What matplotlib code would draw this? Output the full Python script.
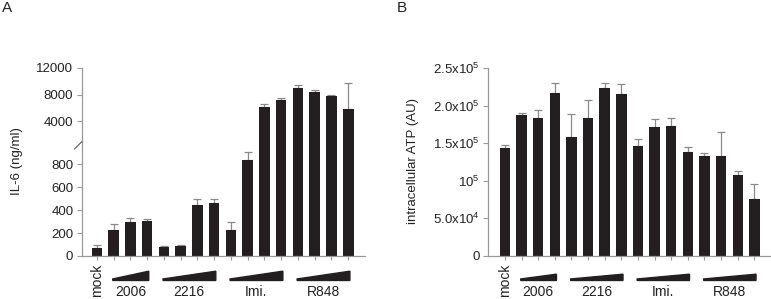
import numpy as np
import matplotlib
matplotlib.use('Agg')
import matplotlib.pyplot as plt
from matplotlib import transforms
from matplotlib.patches import Polygon

plt.rcParams['font.family'] = ['Liberation Sans', 'DejaVu Sans']
plt.rcParams['mathtext.fontset'] = 'custom'
plt.rcParams['mathtext.rm'] = 'Liberation Sans'
plt.rcParams['mathtext.it'] = 'Liberation Sans:italic'

# groups along the x axis
groups = ['mock', '2006', '2216', 'Imi.', 'R848']
group_sizes = [1, 3, 4, 4, 4]

# panel A: IL-6 (ng/ml)
il6 = [68, 231, 296, 308, 77, 89, 444, 465, 231, 838, 6200, 7200, 9000, 8450, 7850, 5860]
il6_err = [27, 50, 36, 18, 6, 6, 51, 36, 62, 66, 360, 260, 450, 200, 150, 3940]

# panel B: intracellular ATP (AU)
atp = [1.442e5, 1.873e5, 1.829e5, 2.171e5, 1.589e5, 1.835e5, 2.232e5, 2.152e5,
       1.464e5, 1.710e5, 1.732e5, 1.389e5, 1.327e5, 1.335e5, 1.071e5, 0.754e5]
atp_err = [0.040e5, 0.023e5, 0.107e5, 0.129e5, 0.298e5, 0.236e5, 0.072e5, 0.134e5,
           0.090e5, 0.116e5, 0.103e5, 0.058e5, 0.049e5, 0.312e5, 0.053e5, 0.204e5]

bar_col = '#231f20'
err_col = '#8a8a8a'
spine_col = '#999999'
txt_col = '#222222'

x = np.arange(len(il6))


def draw_bars(ax, vals, errs, lo=None):
    vals = np.asarray(vals, float)
    errs = np.asarray(errs, float)
    ax.bar(x, vals, width=0.63, color=bar_col, zorder=2)
    keep = np.ones(len(vals), bool) if lo is None else vals > lo
    ax.errorbar(x[keep], vals[keep], yerr=[np.zeros(keep.sum()), errs[keep]], fmt='none',
                ecolor=err_col, elinewidth=0.9, capsize=3, capthick=0.9, zorder=1)


def style(ax):
    for s in ['top', 'right']:
        ax.spines[s].set_visible(False)
    for s in ['left', 'bottom']:
        ax.spines[s].set_color(spine_col)
        ax.spines[s].set_linewidth(0.9)
    ax.tick_params(colors=spine_col, labelcolor=txt_col, labelsize=9.5, length=3.5, width=0.8, pad=2.5)


def group_labels(fig, ax, wedge_h):
    tr = transforms.blended_transform_factory(ax.transData, fig.transFigure)
    start = 0
    for name, n in zip(groups, group_sizes):
        if n == 1:
            fig.text(0, 0, name, transform=tr, rotation=90, ha='center', va='center',
                     fontsize=10, color=txt_col).set_position((start, 0.062))
        else:
            x0, x1 = start - 0.05, start + n - 1 + 0.1
            ax.add_patch(Polygon([(x0, 0.062), (x1, 0.062), (x1, 0.062 + wedge_h), (x0, 0.067)],
                                 closed=True, transform=tr, color=bar_col, clip_on=False))
            fig.text(0, 0, name, transform=tr, ha='center', va='center',
                     fontsize=10, color=txt_col).set_position((start + (n - 1) / 2, 0.024))
        start += n


fig = plt.figure(figsize=(7.71, 2.99), dpi=100)

# ---- panel A, broken y axis
L, R = 81.7 / 771, 365 / 771
bot, mid, top = 1 - 256 / 299, 1 - 141.4 / 299, 1 - 68 / 299
ax_lo = fig.add_axes([L, bot, R - L, mid - bot])
ax_hi = fig.add_axes([L, mid, R - L, top - mid])
draw_bars(ax_lo, il6, il6_err)
draw_bars(ax_hi, il6, il6_err, lo=1000)
for ax in (ax_lo, ax_hi):
    style(ax)
    ax.set_xlim(-0.9, 16.0)
ax_lo.set_ylim(0, 1000)
ax_lo.set_yticks([0, 200, 400, 600, 800])
ax_lo.set_xticks(x)
ax_lo.set_xticklabels([])
ax_lo.tick_params(axis='x', length=3)
ax_hi.set_ylim(1000, 12000)
ax_hi.set_yticks([4000, 8000, 12000])
ax_hi.spines['bottom'].set_visible(False)
ax_hi.set_xticks([])
# break mark
ax_lo.plot([-0.025, 0.022], [0.935, 1.05], transform=ax_lo.transAxes, color='#555555',
           lw=0.8, clip_on=False, zorder=5)
group_labels(fig, ax_lo, 0.031)
fig.text(0.022, 0.46, 'IL-6 (ng/ml)', rotation=90, ha='center', va='center',
         fontsize=9.5, color=txt_col)
fig.text(0.002, 0.995, 'A', ha='left', va='top', fontsize=11, color=txt_col)

# ---- panel B
LB = 488.3 / 771
ax_b = fig.add_axes([LB, bot, 1 - LB, top - bot])
draw_bars(ax_b, atp, atp_err)
style(ax_b)
ax_b.set_xlim(-1.0, 16.0)
ax_b.set_ylim(0, 2.5e5)
ax_b.set_yticks([0, 0.5e5, 1e5, 1.5e5, 2e5, 2.5e5])
ax_b.set_yticklabels(['0', '5.0x10$^{4}$', '10$^{5}$', '1.5x10$^{5}$', '2.0x10$^{5}$', '2.5x10$^{5}$'])
ax_b.set_xticks(x)
ax_b.set_xticklabels([])
ax_b.tick_params(axis='x', length=3)
group_labels(fig, ax_b, 0.021)
fig.text(413 / 771, 0.46, 'intracellular ATP (AU)', rotation=90, ha='center', va='center',
         fontsize=9.5, color=txt_col)
fig.text(397 / 771, 0.995, 'B', ha='left', va='top', fontsize=11, color=txt_col)

fig.savefig('out.png', dpi=100)
